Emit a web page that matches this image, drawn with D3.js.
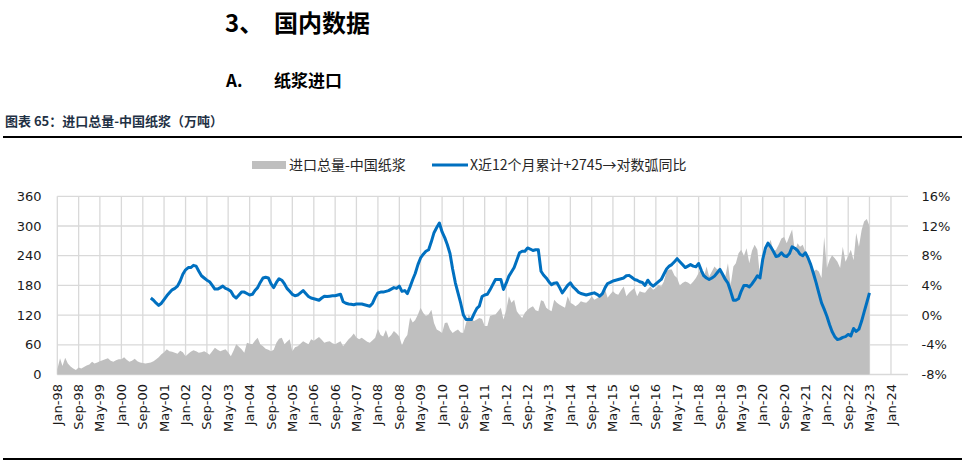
<!DOCTYPE html>
<html><head><meta charset="utf-8">
<script src="https://cdn.jsdelivr.net/npm/d3@7"></script>
<style>
body{margin:0;background:#fff;}
svg{display:block;}
</style></head>
<body><svg id="c" width="965" height="464"></svg>
<script>
// ---- DATA ----
const seriesNames = ["进口总量-中国纸浆", "X近12个月累计+2745→对数弧同比"];
const areaStart = [1998, 0];   // Jan-98
const lineStart = [2000, 11];  // Dec-00
const leftTicks = [0, 60, 120, 180, 240, 300, 360];
const rightTicks = [-8, -4, 0, 4, 8, 12, 16];
// monthly import volume (万吨), Jan-98 .. May-23
const importVol = [
 10,33,17,34,22,16,12,9,14,12,15,18,
 20,26,22,24,27,29,31,33,28,26,29,31,
 31,35,30,26,28,32,27,24,23,22,23,24,
 27,31,35,41,45,51,47,46,44,42,48,45,
 37,42,46,49,47,44,45,47,44,40,47,54,
 50,47,49,51,45,37,48,61,56,51,44,64,
 62,61,68,74,61,57,52,50,47,50,64,72,
 74,61,66,71,47,55,57,62,67,64,61,71,
 68,72,76,70,64,66,67,63,61,64,67,57,
 64,71,76,83,75,71,74,70,66,64,69,74,
 92,80,77,90,74,80,88,83,77,59,72,80,
 115,105,110,121,135,124,118,121,131,104,91,88,
 84,104,105,91,84,88,91,85,84,104,121,111,
 108,111,114,112,98,98,118,120,121,128,135,111,
 130,158,145,151,128,120,114,125,131,135,138,130,
 128,150,148,135,131,128,151,145,141,138,135,158,
 145,142,138,142,148,146,145,150,158,151,154,158,
 165,172,155,162,168,163,161,170,178,158,165,170,
 175,158,168,166,165,172,178,171,175,181,178,188,
 209,212,212,200,195,180,185,188,186,182,188,195,
 205,215,195,218,198,208,218,212,215,205,198,225,
 181,218,225,245,252,240,255,225,250,262,252,198,
 225,245,258,272,248,252,262,275,278,265,280,293,
 248,265,258,262,248,235,220,208,212,208,195,278,
 215,232,241,235,228,215,258,228,240,252,231,286,
 258,292,309,314,300
];
// rolling-12m log yoy (%), Dec-00 .. May-23
const yoyPct = [
 2.3,
 2.0,1.6,1.3,1.6,2.1,2.6,3.0,3.4,3.6,3.9,4.6,5.5,
 6.1,6.4,6.4,6.7,6.6,5.9,5.3,5.0,4.7,4.5,4.0,3.5,
 3.5,3.7,3.9,3.6,3.45,3.2,2.6,2.3,2.7,3.1,3.1,2.9,
 2.7,2.8,3.3,3.7,4.4,5.0,5.1,5.0,4.2,3.7,4.4,4.9,
 4.7,4.2,3.6,3.2,2.8,2.6,2.7,3.0,3.3,2.9,2.5,2.3,
 2.2,2.1,2.0,2.3,2.55,2.5,2.55,2.6,2.6,2.7,2.8,1.8,
 1.6,1.5,1.45,1.4,1.5,1.5,1.5,1.4,1.3,1.2,1.6,2.4,
 3.0,3.1,3.1,3.2,3.3,3.5,3.7,3.6,3.9,3.2,3.3,2.9,
 3.8,4.8,5.6,6.8,7.7,8.2,8.6,8.8,9.9,11.1,11.8,12.4,
 11.2,10.4,9.5,8.3,6.2,4.35,3.0,1.6,0.0,-0.6,-0.6,-0.6,
 0.2,0.9,1.2,2.5,2.7,2.8,3.4,4.1,4.8,4.8,4.8,3.45,
 4.3,5.25,5.8,6.4,7.4,8.4,8.6,8.6,9.05,8.9,8.7,8.8,
 8.8,5.9,5.4,5.0,4.5,4.1,4.3,4.35,3.7,3.0,3.5,4.0,
 4.35,3.8,3.5,3.1,2.9,2.8,2.7,2.8,2.9,3.0,2.8,2.55,
 2.9,3.7,4.25,4.4,4.6,4.7,4.8,4.9,5.0,5.3,5.35,5.1,
 4.8,4.7,4.5,4.4,4.0,4.7,4.2,3.9,4.2,4.5,4.8,5.5,
 6.2,6.6,6.8,7.2,7.6,7.2,6.8,6.4,6.6,6.8,6.6,6.5,
 6.95,6.0,5.3,5.0,4.8,5.0,5.25,5.7,6.15,5.5,4.8,4.3,
 3.2,2.0,2.0,2.2,3.2,4.0,4.0,3.8,4.2,4.7,5.3,5.0,
 7.5,9.0,9.7,9.2,8.6,7.9,8.0,8.4,8.0,7.9,8.3,9.2,
 9.0,8.7,8.2,8.0,8.4,7.7,6.8,5.6,4.35,3.0,1.65,0.8,
 -0.15,-1.3,-2.2,-2.9,-3.3,-3.2,-3.0,-2.9,-2.6,-2.8,-1.8,-2.2,
 -1.9,-0.8,0.4,1.7,3.0
];

// ---- CHART ----
const svg = d3.select("#c");
const CJK = "'Noto Sans CJK SC','Noto Sans',sans-serif";
const NUM = "'DejaVu Sans',sans-serif";

// headings
svg.append("text").attr("x",225).attr("y",32).attr("font-family",CJK).attr("font-weight","bold")
  .attr("font-size",24).attr("fill","#000").text("3、");
svg.append("text").attr("x",274).attr("y",32).attr("font-family",CJK).attr("font-weight","bold")
  .attr("font-size",24).attr("fill","#000").text("国内数据");
svg.append("text").attr("x",226).attr("y",87).attr("font-family",CJK).attr("font-weight","bold")
  .attr("font-size",17).attr("fill","#000").text("A.");
svg.append("text").attr("x",274).attr("y",87).attr("font-family",CJK).attr("font-weight","bold")
  .attr("font-size",17).attr("fill","#000").text("纸浆进口");
svg.append("text").attr("x",5).attr("y",126).attr("font-family",CJK).attr("font-weight","bold")
  .attr("font-size",13).attr("fill","#1f3145").text("图表 65：进口总量-中国纸浆（万吨）");
svg.append("line").attr("x1",3).attr("x2",962).attr("y1",137).attr("y2",137).attr("stroke","#000").attr("stroke-width",2);
svg.append("line").attr("x1",3).attr("x2",962).attr("y1",459).attr("y2",459).attr("stroke","#000").attr("stroke-width",2);

// scales
const t0 = new Date(1998,0,1);
const x = d3.scaleTime().domain([t0, new Date(2024,6,13)]).range([57.3, 908]);
const yL = d3.scaleLinear().domain([0,360]).range([374.5,196.3]);
const yR = d3.scaleLinear().domain([-8,16]).range([374.5,196.3]);

const areaDates = importVol.map((v,i)=>new Date(areaStart[0], areaStart[1]+i, 1));
const lineDates = yoyPct.map((v,i)=>new Date(lineStart[0], lineStart[1]+i, 1));
const xTicks = d3.range(0, 313, 8).map(m=>new Date(1998, m, 1));

// grid
const g = svg.append("g");
g.selectAll("line.h").data(leftTicks).join("line")
  .attr("x1",57.3).attr("x2",908).attr("y1",d=>yL(d)).attr("y2",d=>yL(d))
  .attr("stroke","#d9d9d9").attr("stroke-width",1.3);
g.selectAll("line.v").data(xTicks).join("line")
  .attr("x1",d=>x(d)).attr("x2",d=>x(d)).attr("y1",yL(0)).attr("y2",yL(360))
  .attr("stroke","#d9d9d9").attr("stroke-width",1.3);

// area
svg.append("path").datum(importVol)
  .attr("fill","#bfbfbf")
  .attr("d", d3.area().x((d,i)=>x(areaDates[i])).y0(yL(0)).y1(d=>yL(d)));

// line
svg.append("path").datum(yoyPct)
  .attr("fill","none").attr("stroke","#0070c0").attr("stroke-width",3).attr("stroke-linejoin","round")
  .attr("d", d3.line().x((d,i)=>x(lineDates[i])).y(d=>yR(d)));

// axes
const axL = svg.append("g").attr("transform","translate(41.5,0)")
  .call(d3.axisLeft(yL).tickValues(leftTicks).tickSize(0).tickPadding(0));
axL.select(".domain").remove();
axL.selectAll("text").attr("font-family",NUM).attr("font-size",13).attr("fill","#1a1a1a");

const axR = svg.append("g").attr("transform","translate(921.5,0)")
  .call(d3.axisRight(yR).tickValues(rightTicks).tickSize(0).tickPadding(0).tickFormat(d=>d+"%"));
axR.select(".domain").remove();
axR.selectAll("text").attr("font-family",NUM).attr("font-size",13).attr("fill","#1a1a1a");

const fmt = d3.timeFormat("%b-%y");
svg.append("g").selectAll("text").data(xTicks).join("text")
  .attr("transform",d=>`translate(${x(d)},384) rotate(-90)`)
  .attr("text-anchor","end").attr("dy","0.35em")
  .attr("font-family",NUM).attr("font-size",13).attr("fill","#1a1a1a")
  .text(d=>fmt(d));

// legend
svg.append("rect").attr("x",252).attr("y",161).attr("width",34).attr("height",8).attr("fill","#bfbfbf");
svg.append("text").attr("x",289).attr("y",170).attr("font-family",CJK).attr("font-size",14).attr("fill","#262626").text(seriesNames[0]);
svg.append("line").attr("x1",432).attr("x2",468).attr("y1",165).attr("y2",165).attr("stroke","#0070c0").attr("stroke-width",3);
svg.append("text").attr("x",470).attr("y",170).attr("font-family",CJK).attr("font-size",14).attr("fill","#262626").text(seriesNames[1]);
</script></body></html>
